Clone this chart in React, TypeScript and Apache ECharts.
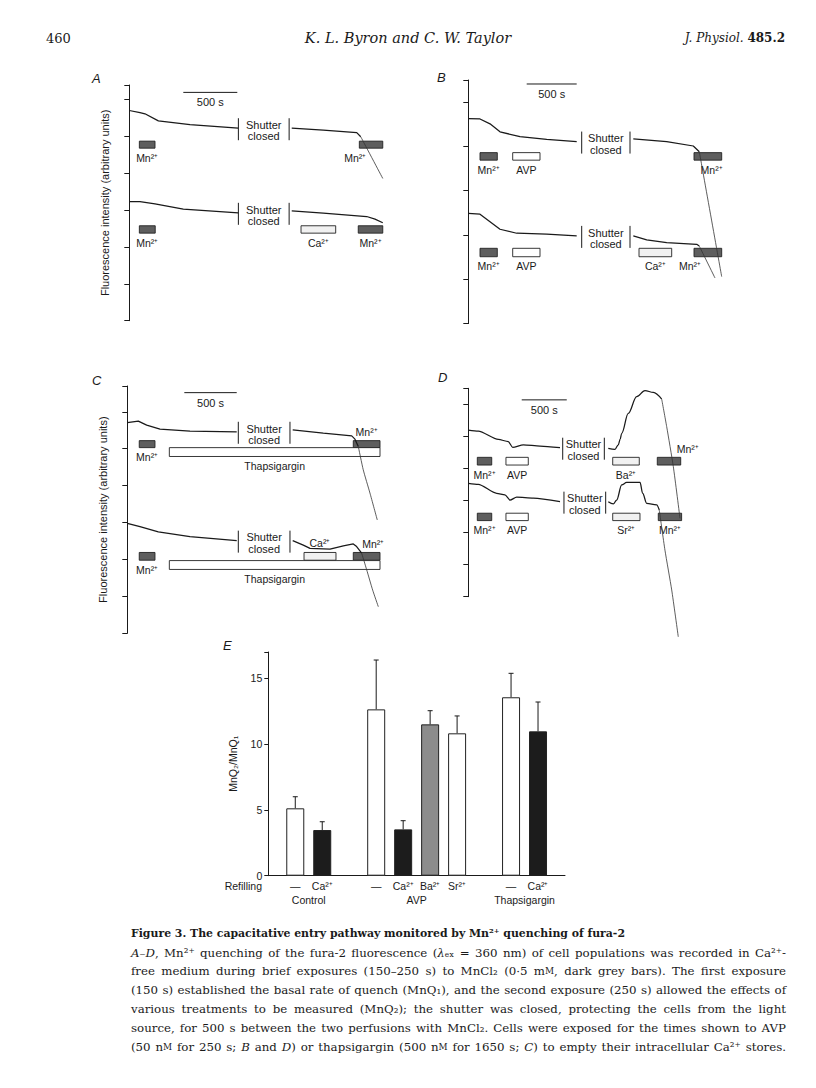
import React, { useEffect, useRef } from 'react';
import * as echarts from 'echarts';

const SANS = 'Liberation Sans, Arial, Helvetica, sans-serif';
const SERIF = 'DejaVu Serif, serif';
const INK = '#1a1a1a';

// ---------- Panel A (time in s, fluorescence in arbitrary units) ----------
const traceA1Pre = [[0, 5.69], [99, 5.63], [145, 5.6], [269, 5.41], [562, 5.31], [1009, 5.21]];
const traceA1Post = [[1504, 5.21], [1796, 5.16], [2106, 5.09], [2143, 4.98]];
const traceA1Drop = [[2143, 4.98], [2347, 3.85]];
const stimA1 = [[93, 238, 'Mn²⁺'], [2130, 2347, 'Mn²⁺']];
const traceA2Pre = [[0, 3.22], [99, 3.22], [238, 3.16], [500, 3.02], [1009, 2.92]];
const traceA2Post = [[1504, 2.97], [1796, 2.91], [2198, 2.82], [2275, 2.75], [2347, 2.65]];
const stimA2 = [[93, 240, 'Mn²⁺'], [1590, 1911, 'Ca²⁺'], [2120, 2347, 'Mn²⁺']];
const shutterA = [1010, 1480];
const scaleBarA = [500, 1000];

// ---------- Panel B ----------
const traceB1Pre = [[0, 4.63], [117, 4.62], [217, 4.51], [317, 4.33], [517, 4.22], [784, 4.16], [1084, 4.11]];
const traceB1Post = [[1650, 4.17], [1984, 4.11], [2250, 4.01], [2310, 3.88]];
const traceB1Drop = [[2310, 3.88], [2534, 1.06]];
const stimB1 = [[117, 290, 'Mn²⁺'], [444, 717, 'AVP'], [2257, 2534, 'Mn²⁺']];
const traceB2Pre = [[0, 2.49], [117, 2.47], [317, 2.13], [484, 2.04], [784, 2.02], [1084, 1.98]];
const traceB2Post = [[1650, 1.98], [1784, 1.89], [1984, 1.83], [2284, 1.79], [2310, 1.75]];
const traceB2Drop = [[2310, 1.75], [2467, 1.03]];
const stimB2 = [[117, 290, 'Mn²⁺'], [444, 717, 'AVP'], [1707, 2034, 'Ca²⁺'], [2257, 2534, 'Mn²⁺']];
const shutterB = [1134, 1617];
const scaleBarB = [584, 1084];

// ---------- Panel C ----------
const traceC1Pre = [[0, 5.71], [105, 5.75], [185, 5.64], [312, 5.53], [598, 5.48], [1044, 5.46]];
const traceC1Post = [[1578, 5.51], [1870, 5.42], [2141, 5.35], [2172, 5.26], [2204, 5.06]];
const traceC1Drop = [[2204, 5.06], [2251, 4.43], [2315, 3.8], [2385, 3.07]];
const stimC1 = [[114, 264, 'Mn²⁺'], [2156, 2411, 'Mn²⁺'], [401, 2411, 'Thapsigargin']];
const traceC2Pre = [[0, 2.98], [121, 2.89], [296, 2.75], [598, 2.62], [1044, 2.51]];
const traceC2Post = [[1578, 2.51], [1679, 2.39], [1743, 2.3], [1934, 2.28], [2061, 2.37], [2156, 2.42], [2188, 2.35], [2236, 2.17]];
const traceC2Drop = [[2236, 2.17], [2284, 1.72], [2341, 1.17], [2395, 0.72]];
const stimC2 = [[114, 264, 'Mn²⁺'], [1686, 1991, 'Ca²⁺'], [2156, 2411, 'Mn²⁺'], [401, 2411, 'Thapsigargin']];
const shutterC = [1059, 1552];
const scaleBarC = [544, 1044];

// ---------- Panel D ----------
const traceD1Pre = [[0, 5.19], [111, 5.16], [333, 4.9], [444, 4.83], [493, 4.65], [611, 4.73], [796, 4.69], [1018, 4.64]];
const traceD1Post = [[1554, 4.62], [1628, 4.59], [1665, 4.73], [1685, 4.9], [1703, 5.09], [1776, 5.71], [1869, 6.23], [1961, 6.42], [2054, 6.36], [2147, 6.15]];
const traceD1Drop = [[2147, 6.15], [2202, 5.3], [2276, 4.05], [2350, 2.44]];
const stimD1 = [[100, 260, 'Mn²⁺'], [418, 666, 'AVP'], [1603, 1898, 'Ba²⁺'], [2098, 2358, 'Mn²⁺']];
const traceD2Pre = [[0, 3.53], [111, 3.5], [315, 3.22], [407, 3.17], [463, 3.01], [537, 3.1], [722, 3.07], [1018, 2.96]];
const traceD2Post = [[1554, 2.96], [1610, 2.89], [1647, 3.01], [1703, 3.48], [1758, 3.56], [1906, 3.56], [1936, 3.22], [1980, 2.91], [2091, 2.86], [2120, 2.7]];
const traceD2Drop = [[2120, 2.7], [2183, 1.45], [2258, 0.21], [2331, -1.25]];
const stimD2 = [[100, 260, 'Mn²⁺'], [418, 666, 'AVP'], [1603, 1906, 'Sr²⁺'], [2109, 2368, 'Mn²⁺']];
const shutterD1 = [1048, 1510];
const shutterD2 = [1062, 1525];
const scaleBarD = [593, 1093];

// ---------- Panel E ----------
const refillCategories = ['', '—', 'Ca²⁺', '', '—', 'Ca²⁺', 'Ba²⁺', 'Sr²⁺', '', '—', 'Ca²⁺', ''];
const ratioValues = [null, 5.12, 3.47, null, 12.64, 3.52, 11.5, 10.82, null, 13.56, 10.97, null];
const ratioErrors = [null, 0.88, 0.63, null, 3.75, 0.66, 1.04, 1.32, null, 1.82, 2.23, null];
const treatmentGroups = [['Control', 1, 2], ['AVP', 4, 7], ['Thapsigargin', 9, 10]];
const ratioTicks = [0, 5, 10, 15];

// ---------- Text ----------
const captionTitle = 'Figure 3. The capacitative entry pathway monitored by Mn²⁺ quenching of fura-2';
const captionLines = [
  '{i|A–D}, Mn²⁺ quenching of the fura-2 fluorescence ({i|λ}ₑₓ = 360 nm) of cell populations was recorded in Ca²⁺-',
  'free medium during brief exposures (150–250 s) to MnCl₂ (0·5 m{sc|M}, dark grey bars). The first exposure',
  '(150 s) established the basal rate of quench (MnQ₁), and the second exposure (250 s) allowed the effects of',
  'various treatments to be measured (MnQ₂); the shutter was closed, protecting the cells from the light',
  'source, for 500 s between the two perfusions with MnCl₂. Cells were exposed for the times shown to AVP',
  '(50 n{sc|M} for 250 s; {i|B} and {i|D}) or thapsigargin (500 n{sc|M} for 1650 s; {i|C}) to empty their intracellular Ca²⁺ stores.',
];

// ---------- layout (pixels / axis ranges) ----------
const panels = [
  { letter: 'A', letterPos: [92, 78], grid: { left: 129.3, top: 85, width: 259.2, height: 235.7 }, xMax: 2400, yMax: 6.38, yName: true, scaleBar: scaleBarA, scaleY: 6.18 },
  { letter: 'B', letterPos: [437, 77], grid: { left: 468.3, top: 80, width: 260, height: 243.6 }, xMax: 2600, yMax: 5.5, yName: false, scaleBar: scaleBarB, scaleY: 5.41 },
  { letter: 'C', letterPos: [92, 380], grid: { left: 127.3, top: 386, width: 256.8, height: 247.3 }, xMax: 2450, yMax: 6.7, yName: true, scaleBar: scaleBarC, scaleY: 6.52 },
  { letter: 'D', letterPos: [438, 377], grid: { left: 468.3, top: 388.3, width: 216.2, height: 208.4 }, xMax: 2400, yMax: 6.49, yName: false, scaleBar: scaleBarD, scaleY: 6.13 },
];

const traces = [
  { panel: 0, pre: traceA1Pre, post: traceA1Post, drop: traceA1Drop, stim: stimA1, shutter: shutterA, row: [4.86, 4.67], place: { 1: 'belowLeft' } },
  { panel: 0, pre: traceA2Pre, post: traceA2Post, drop: null, stim: stimA2, shutter: shutterA, row: [2.57, 2.37], place: {} },
  { panel: 1, pre: traceB1Pre, post: traceB1Post, drop: traceB1Drop, stim: stimB1, shutter: shutterB, row: [3.86, 3.69], place: { 2: 'belowRight' } },
  { panel: 1, pre: traceB2Pre, post: traceB2Post, drop: traceB2Drop, stim: stimB2, shutter: shutterB, row: [1.7, 1.51], place: { 3: 'belowLeft' } },
  { panel: 2, pre: traceC1Pre, post: traceC1Post, drop: traceC1Drop, stim: stimC1, shutter: shutterC, row: [5.22, 5.03], thapRow: [5.03, 4.79], place: { 1: 'above' } },
  { panel: 2, pre: traceC2Pre, post: traceC2Post, drop: traceC2Drop, stim: stimC2, shutter: shutterC, row: [2.19, 1.98], thapRow: [1.97, 1.73], place: { 1: 'above', 2: 'aboveInset' } },
  { panel: 3, pre: traceD1Pre, post: traceD1Post, drop: traceD1Drop, stim: stimD1, shutter: shutterD1, row: [4.34, 4.1], place: { 3: 'aboveRight' }, smooth: true },
  { panel: 3, pre: traceD2Pre, post: traceD2Post, drop: traceD2Drop, stim: stimD2, shutter: shutterD2, row: [2.6, 2.37], place: {}, smooth: true },
];

const CAPTION_LEFT = 131;
const CAPTION_RIGHT = 786;
const CAPTION_SIZE = 11.8;

function stimFill(agent: string) {
  if (agent === 'Mn²⁺') return '#5e5e5e';
  if (agent === 'AVP' || agent === 'Thapsigargin') return '#ffffff';
  return '#f1f1f1';
}

function barFill(cat: string) {
  if (cat === 'Ca²⁺') return '#1c1c1c';
  if (cat === 'Ba²⁺') return '#8c8c8c';
  return '#ffffff';
}

// ---- justified caption: split each line into words and spread them to full width ----
function parseSegments(line: string) {
  const segs: { s: string; t: string }[] = [];
  const re = /\{(\w+)\|([^}]*)\}/g;
  let last = 0;
  let m: RegExpExecArray | null;
  while ((m = re.exec(line))) {
    if (m.index > last) segs.push({ s: '', t: line.slice(last, m.index) });
    segs.push({ s: m[1], t: m[2] });
    last = re.lastIndex;
  }
  if (last < line.length) segs.push({ s: '', t: line.slice(last) });
  return segs;
}

function splitWords(segs: { s: string; t: string }[]) {
  const words: { s: string; t: string }[][] = [[]];
  segs.forEach((seg) => {
    seg.t.split(' ').forEach((p, idx) => {
      if (idx > 0) words.push([]);
      if (p) words[words.length - 1].push({ s: seg.s, t: p });
    });
  });
  return words.filter((w) => w.length);
}

function captionGraphics(): any[] {
  const canvas = document.createElement('canvas');
  const ctx = canvas.getContext('2d') as CanvasRenderingContext2D;
  const fontOf = (s: string) => {
    if (s === 'i') return `italic normal ${CAPTION_SIZE}px ${SERIF}`;
    if (s === 'sc') return `normal normal ${CAPTION_SIZE * 0.75}px ${SERIF}`;
    return `normal normal ${CAPTION_SIZE}px ${SERIF}`;
  };
  const rich = {
    i: { fontFamily: SERIF, fontStyle: 'italic', fontSize: CAPTION_SIZE, fill: INK },
    sc: { fontFamily: SERIF, fontSize: CAPTION_SIZE * 0.75, fill: INK },
  };
  const out: any[] = [];
  captionLines.forEach((line, k) => {
    const words = splitWords(parseSegments(line));
    const widths = words.map((w) => w.reduce((acc, seg) => { ctx.font = fontOf(seg.s); return acc + ctx.measureText(seg.t).width; }, 0));
    const total = widths.reduce((a, b) => a + b, 0);
    const gap = Math.max(2, (CAPTION_RIGHT - CAPTION_LEFT - total) / Math.max(1, words.length - 1));
    let x = CAPTION_LEFT;
    const y = 952.5 + k * 18.9;
    words.forEach((w, j) => {
      const text = w.map((seg) => (seg.s ? `{${seg.s}|${seg.t}}` : seg.t)).join('');
      out.push({ type: 'text', x, y, style: { text, fontFamily: SERIF, fontSize: CAPTION_SIZE, fill: INK, verticalAlign: 'middle', rich } });
      x += widths[j] + gap;
    });
  });
  return out;
}

function buildOption() {
  const grids: any[] = [];
  const xAxes: any[] = [];
  const yAxes: any[] = [];
  const series: any[] = [];
  const graphics: any[] = [];

  panels.forEach((p, i) => {
    grids.push({ ...p.grid, containLabel: false });
    xAxes.push({ type: 'value', gridIndex: i, min: 0, max: p.xMax, show: false });
    yAxes.push({
      type: 'value', gridIndex: i, min: 0, max: p.yMax, interval: 1,
      axisLine: { show: true, lineStyle: { color: INK, width: 1 } },
      axisTick: { show: true, inside: false, length: 5, lineStyle: { color: INK, width: 1 } },
      axisLabel: { show: false }, splitLine: { show: false },
      name: p.yName ? 'Fluorescence intensity (arbitrary units)' : '',
      nameLocation: 'middle', nameGap: 19,
      nameTextStyle: { fontFamily: SANS, fontSize: 11, color: INK },
    });
    graphics.push({
      type: 'text', x: p.letterPos[0], y: p.letterPos[1],
      style: { text: p.letter, fontFamily: SANS, fontStyle: 'italic', fontSize: 13, fill: INK, verticalAlign: 'middle' },
    });
    const sb = p.scaleBar;
    const sy = p.scaleY;
    series.push({
      type: 'custom', xAxisIndex: i, yAxisIndex: i, clip: false, silent: true,
      data: [[sb[0], sb[1], sy]],
      renderItem: (params: any, api: any) => {
        const a = api.coord([api.value(0), api.value(2)]);
        const b = api.coord([api.value(1), api.value(2)]);
        return {
          type: 'group', children: [
            { type: 'line', shape: { x1: a[0], y1: a[1], x2: b[0], y2: b[1] }, style: { stroke: INK, lineWidth: 1 } },
            { type: 'text', style: { text: `${Math.round(api.value(1) - api.value(0))} s`, x: (a[0] + b[0]) / 2, y: a[1] + 10, align: 'center', verticalAlign: 'middle', fontFamily: SANS, fontSize: 11, fill: INK } },
          ],
        };
      },
    });
  });

  traces.forEach((tr: any) => {
    const pi = tr.panel;
    const lineBase = { type: 'line', xAxisIndex: pi, yAxisIndex: pi, showSymbol: false, symbol: 'none', silent: true, clip: false };
    series.push({ ...lineBase, data: tr.pre, smooth: tr.smooth ? 0.25 : false, smoothMonotone: 'x', lineStyle: { color: INK, width: 1.25 } });
    series.push({ ...lineBase, data: tr.post, smooth: tr.smooth ? 0.35 : false, smoothMonotone: 'x', lineStyle: { color: INK, width: 1.25 } });
    if (tr.drop) series.push({ ...lineBase, data: tr.drop, smooth: 0.2, lineStyle: { color: '#333', width: 0.8 } });

    series.push({
      type: 'custom', xAxisIndex: pi, yAxisIndex: pi, clip: false, silent: true,
      data: [[tr.shutter[0], tr.shutter[1], tr.pre[tr.pre.length - 1][1]]],
      renderItem: (params: any, api: any) => {
        const a = api.coord([api.value(0), api.value(2)]);
        const b = api.coord([api.value(1), api.value(2)]);
        const cy = a[1] + 1;
        return {
          type: 'group', children: [
            { type: 'line', shape: { x1: a[0], y1: cy - 11, x2: a[0], y2: cy + 11 }, style: { stroke: INK, lineWidth: 1 } },
            { type: 'line', shape: { x1: b[0], y1: cy - 11, x2: b[0], y2: cy + 11 }, style: { stroke: INK, lineWidth: 1 } },
            { type: 'text', style: { text: 'Shutter\nclosed', x: (a[0] + b[0]) / 2, y: a[1] + 2.5, align: 'center', verticalAlign: 'middle', fontFamily: SANS, fontSize: 11, lineHeight: 11.5, fill: INK } },
          ],
        };
      },
    });

    series.push({
      type: 'custom', xAxisIndex: pi, yAxisIndex: pi, clip: false, silent: true,
      data: tr.stim.map((s: any, k: number) => [s[0], s[1], k]),
      renderItem: (params: any, api: any) => {
        const k = api.value(2);
        const s = tr.stim[k];
        const row = s[2] === 'Thapsigargin' ? tr.thapRow : tr.row;
        const p0 = api.coord([api.value(0), row[0]]);
        const p1 = api.coord([api.value(1), row[1]]);
        const place = tr.place[k] || 'below';
        let tx = (p0[0] + p1[0]) / 2;
        let ty = p1[1] + 9.5;
        let align = 'center';
        if (place === 'above') ty = p0[1] - 9;
        if (place === 'aboveRight') { tx = p1[0] - 4; ty = p0[1] - 8; align = 'left'; }
        if (place === 'aboveInset') { tx = p0[0] + 9; ty = p0[1] - 8; align = 'left'; }
        if (place === 'belowLeft') { tx = p0[0] + 7; align = 'right'; }
        if (place === 'belowRight') { tx = p1[0] + 1; align = 'right'; }
        return {
          type: 'group', children: [
            { type: 'rect', shape: { x: p0[0], y: p0[1], width: p1[0] - p0[0], height: p1[1] - p0[1] }, style: { fill: stimFill(s[2]), stroke: '#222', lineWidth: 0.9 } },
            { type: 'text', style: { text: s[2], x: tx, y: ty, align, verticalAlign: 'middle', fontFamily: SANS, fontSize: 10.5, fill: INK } },
          ],
        };
      },
    });
  });

  // ---------- Panel E ----------
  const e = panels.length;
  grids.push({ left: 268.3, top: 652, width: 296.7, height: 223.7 });
  xAxes.push({
    type: 'category', gridIndex: e, data: refillCategories, boundaryGap: false,
    axisLine: { show: true, lineStyle: { color: INK, width: 1 } },
    axisTick: { show: false },
    axisLabel: { interval: 0, margin: 5, fontFamily: SANS, fontSize: 10.5, color: INK },
    splitLine: { show: false },
  });
  yAxes.push({
    type: 'value', gridIndex: e, min: 0, max: 17, interval: 5,
    axisLine: { show: true, lineStyle: { color: INK, width: 1 } },
    axisTick: { show: true, inside: false, length: 4, lineStyle: { color: INK } },
    axisLabel: { fontFamily: SANS, fontSize: 10.5, color: INK, margin: 6, customValues: ratioTicks },
    splitLine: { show: false },
    name: 'MnQ₂/MnQ₁', nameLocation: 'middle', nameGap: 30,
    nameTextStyle: { fontFamily: SANS, fontSize: 10.5, color: INK },
  });
  series.push({
    type: 'bar', xAxisIndex: e, yAxisIndex: e, barWidth: 18, silent: true,
    data: ratioValues.map((v, k) => (v == null ? null : { value: v, itemStyle: { color: barFill(refillCategories[k]) } })),
    itemStyle: { borderColor: '#222', borderWidth: 1 },
  });
  series.push({
    type: 'custom', xAxisIndex: e, yAxisIndex: e, silent: true, clip: false,
    data: ratioValues.map((v, k) => (v == null ? null : [k, v, v + (ratioErrors[k] as number)])).filter((d) => d),
    renderItem: (params: any, api: any) => {
      const a = api.coord([api.value(0), api.value(1)]);
      const b = api.coord([api.value(0), api.value(2)]);
      return {
        type: 'group', children: [
          { type: 'line', shape: { x1: a[0], y1: a[1], x2: b[0], y2: b[1] }, style: { stroke: INK, lineWidth: 1 } },
          { type: 'line', shape: { x1: b[0] - 2.5, y1: b[1], x2: b[0] + 2.5, y2: b[1] }, style: { stroke: INK, lineWidth: 1 } },
        ],
      };
    },
  });
  series.push({
    type: 'custom', xAxisIndex: e, yAxisIndex: e, silent: true, clip: false,
    data: treatmentGroups.map((g) => [g[1], g[2], 0]),
    renderItem: (params: any, api: any) => {
      const g = treatmentGroups[params.dataIndex];
      const a = api.coord([api.value(0), 0]);
      const b = api.coord([api.value(1), 0]);
      return { type: 'text', style: { text: g[0], x: (a[0] + b[0]) / 2, y: a[1] + 24, align: 'center', verticalAlign: 'middle', fontFamily: SANS, fontSize: 10.5, fill: INK } };
    },
  });
  graphics.push({ type: 'text', x: 223, y: 645, style: { text: 'E', fontFamily: SANS, fontStyle: 'italic', fontSize: 13, fill: INK, verticalAlign: 'middle' } });
  graphics.push({ type: 'text', x: 262, y: 886, style: { text: 'Refilling', fontFamily: SANS, fontSize: 10.5, fill: INK, align: 'right', verticalAlign: 'middle' } });

  // ---------- header ----------
  graphics.push({ type: 'text', x: 46, y: 38, style: { text: '460', fontFamily: SERIF, fontSize: 13, fill: INK, verticalAlign: 'middle' } });
  graphics.push({ type: 'text', x: 408, y: 38, style: { text: 'K. L. Byron and C. W. Taylor', fontFamily: SERIF, fontStyle: 'italic', fontSize: 14.5, fill: INK, align: 'center', verticalAlign: 'middle' } });
  graphics.push({
    type: 'text', x: 785, y: 38,
    style: {
      text: '{i|J. Physiol.} {b|485.2}', align: 'right', verticalAlign: 'middle', fill: INK, fontFamily: SERIF, fontSize: 12,
      rich: { i: { fontFamily: SERIF, fontStyle: 'italic', fontSize: 12, fill: INK }, b: { fontFamily: SERIF, fontWeight: 'bold', fontSize: 12, fill: INK } },
    },
  });

  // ---------- caption ----------
  graphics.push({ type: 'text', x: CAPTION_LEFT, y: 933, style: { text: captionTitle, fontFamily: SERIF, fontWeight: 'bold', fontSize: 10.9, fill: INK, verticalAlign: 'middle' } });
  captionGraphics().forEach((g) => graphics.push(g));

  return {
    animation: false,
    backgroundColor: '#ffffff',
    textStyle: { fontFamily: SANS },
    grid: grids, xAxis: xAxes, yAxis: yAxes, series, graphic: graphics,
  };
}

export default function App() {
  const ref = useRef<HTMLDivElement>(null);
  useEffect(() => {
    const chart = echarts.init(ref.current as HTMLDivElement, null, { renderer: 'svg' });
    chart.setOption(buildOption() as any);
    return () => chart.dispose();
  }, []);
  return <div ref={ref} style={{ position: 'absolute', left: 0, top: 0, width: 816, height: 1088, background: '#fff' }} />;
}
